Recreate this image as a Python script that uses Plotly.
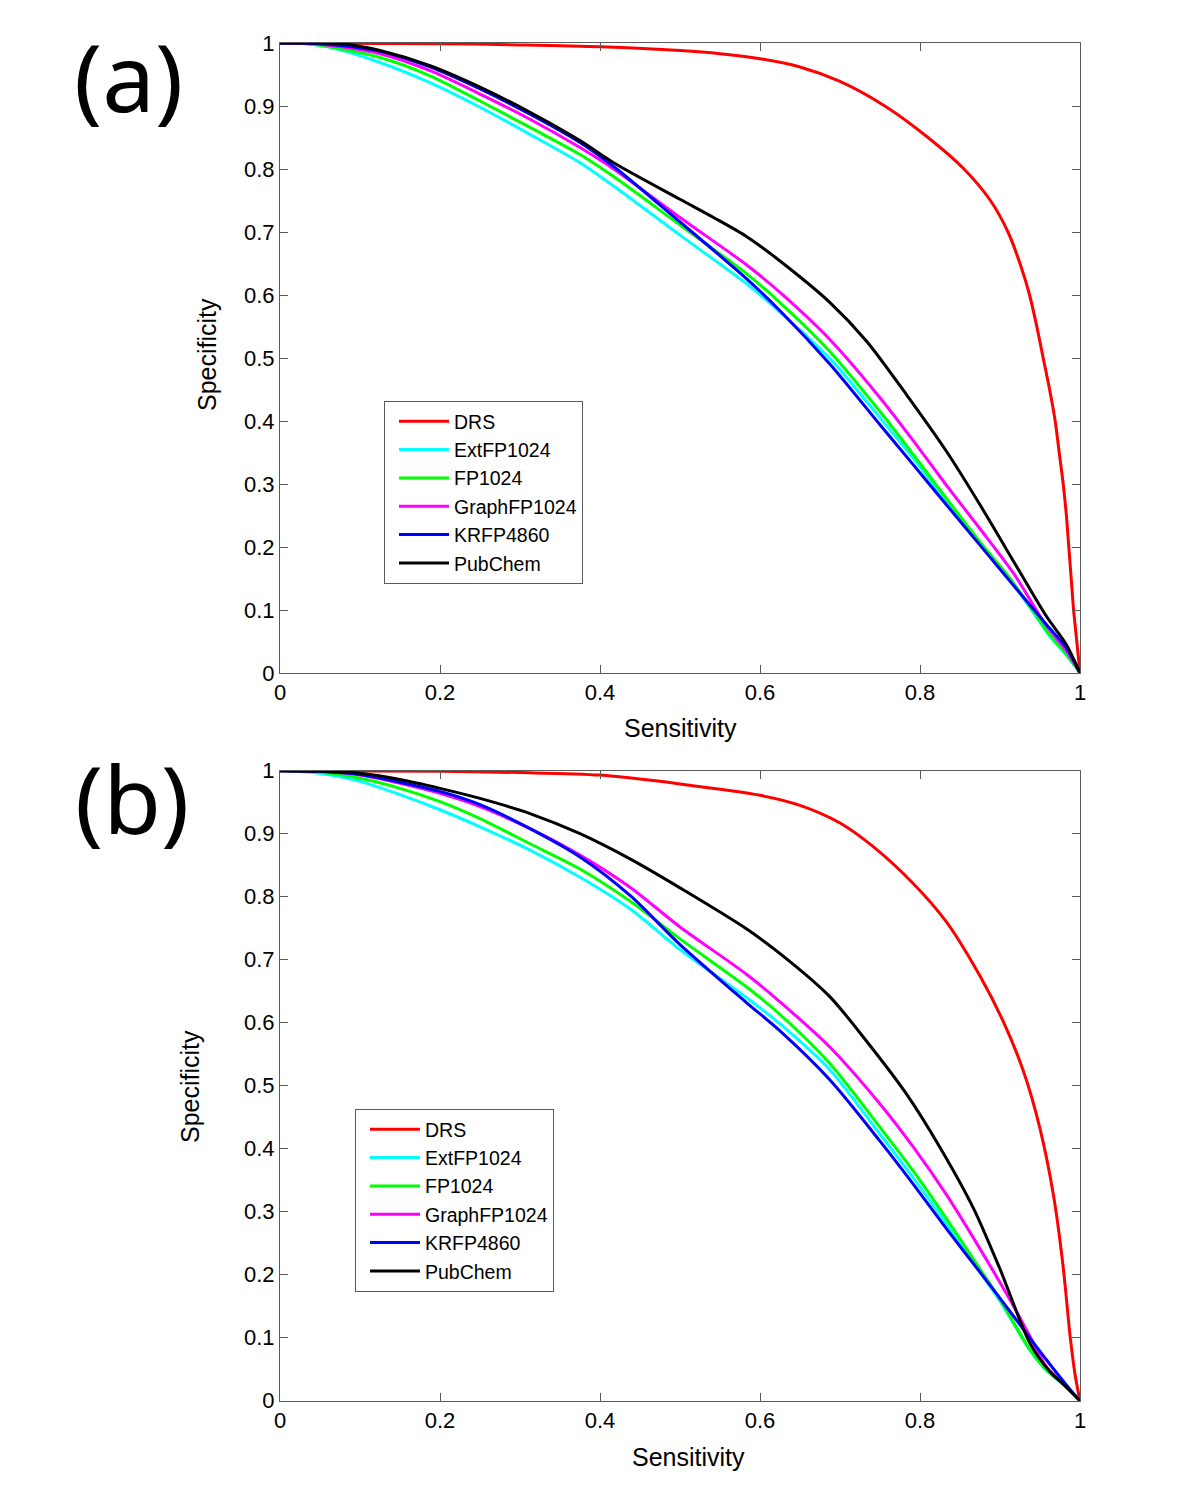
import plotly.graph_objects as go

# Page has an 8px body margin; the figure is sized so the page is exactly 1200x1485.
OFF = 8
FW, FH = 1200 - 2 * OFF, 1485 - 2 * OFF


def px(x):
    return (x - OFF) / FW


def py(y):
    return 1 - (y - OFF) / FH


names = ["DRS", "ExtFP1024", "FP1024", "GraphFP1024", "KRFP4860", "PubChem"]
colors = ["#FF0000", "#00FFFF", "#00FF00", "#FF00FF", "#0000FF", "#000000"]

# ---------------- Panel (a) ----------------
a_drs_x = [0, 0.2, 0.3, 0.4, 0.5, 0.55, 0.6, 0.65, 0.7, 0.756, 0.81, 0.855, 0.888, 0.91, 0.925, 0.937, 0.946, 0.954, 0.962, 0.969, 0.974, 0.979, 0.983, 0.986, 0.989, 0.992, 0.996, 1.0]
a_drs_y = [1, 0.999, 0.997, 0.994, 0.988, 0.983, 0.975, 0.962, 0.939, 0.9, 0.85, 0.8, 0.75, 0.7, 0.65, 0.6, 0.55, 0.5, 0.45, 0.4, 0.35, 0.3, 0.25, 0.2, 0.15, 0.1, 0.05, 0.0]

a_ext_x = [0, 0.03, 0.0625, 0.125, 0.1875, 0.25, 0.3125, 0.375, 0.417, 0.5, 0.583, 0.625, 0.6875, 0.75, 0.792, 0.833, 0.875, 0.9125, 0.946, 0.9625, 0.983, 1.0]
a_ext_y = [1, 0.999, 0.993, 0.969, 0.937, 0.898, 0.855, 0.810, 0.773, 0.695, 0.618, 0.573, 0.499, 0.405, 0.340, 0.272, 0.204, 0.148, 0.088, 0.058, 0.028, 0.0]

a_fp_x = [0, 0.04, 0.125, 0.1875, 0.25, 0.3125, 0.375, 0.417, 0.5, 0.583, 0.625, 0.6875, 0.75, 0.792, 0.833, 0.875, 0.9125, 0.946, 0.9625, 0.983, 1.0]
a_fp_y = [1, 0.998, 0.977, 0.948, 0.908, 0.866, 0.823, 0.788, 0.711, 0.634, 0.588, 0.510, 0.415, 0.346, 0.277, 0.208, 0.150, 0.090, 0.060, 0.030, 0.0]

a_graph_x = [0, 0.05, 0.125, 0.1875, 0.25, 0.3125, 0.375, 0.417, 0.5, 0.583, 0.625, 0.6875, 0.75, 0.792, 0.833, 0.875, 0.917, 0.958, 0.983, 1.0]
a_graph_y = [1, 0.998, 0.983, 0.956, 0.919, 0.879, 0.834, 0.800, 0.723, 0.648, 0.604, 0.529, 0.437, 0.368, 0.298, 0.229, 0.158, 0.075, 0.035, 0.0]

a_kr_x = [0, 0.05, 0.125, 0.1875, 0.25, 0.3125, 0.375, 0.417, 0.5, 0.583, 0.625, 0.6875, 0.75, 0.792, 0.833, 0.875, 0.917, 0.958, 0.983, 1.0]
a_kr_y = [1, 0.999, 0.987, 0.962, 0.927, 0.887, 0.842, 0.804, 0.716, 0.626, 0.575, 0.490, 0.394, 0.330, 0.267, 0.203, 0.139, 0.077, 0.040, 0.0]

a_pub_x = [0, 0.05, 0.083, 0.125, 0.1875, 0.25, 0.3125, 0.375, 0.417, 0.5, 0.542, 0.583, 0.625, 0.6875, 0.733, 0.783, 0.833, 0.875, 0.925, 0.958, 0.983, 1.0]
a_pub_y = [1, 1.0, 0.998, 0.988, 0.964, 0.930, 0.890, 0.845, 0.810, 0.752, 0.723, 0.693, 0.654, 0.588, 0.527, 0.442, 0.352, 0.267, 0.160, 0.090, 0.045, 0.0]

# ---------------- Panel (b) ----------------
b_drs_x = [0, 0.2, 0.3, 0.4, 0.5, 0.6, 0.65, 0.7, 0.74, 0.79, 0.833, 0.875, 0.904, 0.929, 0.95, 0.967, 0.979, 0.9875, 0.994, 1.0]
b_drs_y = [1, 0.999, 0.997, 0.993, 0.979, 0.961, 0.945, 0.917, 0.881, 0.823, 0.760, 0.674, 0.602, 0.524, 0.432, 0.325, 0.212, 0.104, 0.040, 0.0]

b_ext_x = [0, 0.05, 0.1, 0.15, 0.2, 0.25, 0.3125, 0.375, 0.4375, 0.5, 0.583, 0.625, 0.6875, 0.75, 0.792, 0.833, 0.875, 0.9, 0.9375, 0.958, 0.979, 1.0]
b_ext_y = [1, 0.996, 0.983, 0.962, 0.938, 0.911, 0.874, 0.831, 0.781, 0.716, 0.640, 0.598, 0.525, 0.423, 0.353, 0.281, 0.204, 0.158, 0.080, 0.048, 0.026, 0.0]

b_fp_x = [0, 0.05, 0.1, 0.15, 0.2, 0.25, 0.3125, 0.375, 0.4375, 0.5, 0.583, 0.625, 0.6875, 0.75, 0.792, 0.833, 0.875, 0.9, 0.917, 0.9375, 0.958, 0.979, 1.0]
b_fp_y = [1, 0.998, 0.988, 0.972, 0.951, 0.924, 0.884, 0.844, 0.793, 0.733, 0.657, 0.613, 0.535, 0.434, 0.364, 0.289, 0.209, 0.161, 0.124, 0.081, 0.049, 0.027, 0.0]

b_graph_x = [0, 0.05, 0.1, 0.15, 0.2, 0.25, 0.3125, 0.375, 0.4375, 0.5, 0.583, 0.625, 0.6875, 0.75, 0.792, 0.833, 0.875, 0.917, 0.9375, 0.958, 0.979, 1.0]
b_graph_y = [1, 0.999, 0.993, 0.980, 0.964, 0.943, 0.908, 0.866, 0.815, 0.752, 0.677, 0.633, 0.561, 0.471, 0.402, 0.327, 0.241, 0.150, 0.102, 0.054, 0.027, 0.0]

b_kr_x = [0, 0.05, 0.1, 0.2, 0.25, 0.3125, 0.375, 0.4375, 0.5, 0.583, 0.625, 0.6875, 0.75, 0.792, 0.833, 0.875, 0.917, 0.958, 0.992, 1.0]
b_kr_y = [1, 0.999, 0.994, 0.967, 0.946, 0.908, 0.863, 0.802, 0.724, 0.632, 0.587, 0.509, 0.412, 0.343, 0.273, 0.204, 0.134, 0.065, 0.011, 0.0]

b_pub_x = [0, 0.05, 0.1, 0.15, 0.2, 0.25, 0.3125, 0.375, 0.4375, 0.5, 0.583, 0.6375, 0.6875, 0.733, 0.783, 0.825, 0.867, 0.9, 0.9375, 0.9625, 0.98, 1.0]
b_pub_y = [1, 0.999, 0.996, 0.986, 0.972, 0.956, 0.932, 0.900, 0.860, 0.814, 0.749, 0.697, 0.641, 0.571, 0.487, 0.402, 0.305, 0.209, 0.091, 0.046, 0.025, 0.0]

panel_a = [(a_drs_x, a_drs_y), (a_ext_x, a_ext_y), (a_fp_x, a_fp_y),
           (a_graph_x, a_graph_y), (a_kr_x, a_kr_y), (a_pub_x, a_pub_y)]
panel_b = [(b_drs_x, b_drs_y), (b_ext_x, b_ext_y), (b_fp_x, b_fp_y),
           (b_graph_x, b_graph_y), (b_kr_x, b_kr_y), (b_pub_x, b_pub_y)]

fig = go.Figure()
for i, (x, y) in enumerate(panel_a):
    fig.add_trace(go.Scatter(x=x, y=y, mode="lines", name=names[i],
                             line=dict(color=colors[i], width=3, shape="spline", smoothing=0.8),
                             xaxis="x", yaxis="y", legend="legend"))
for i, (x, y) in enumerate(panel_b):
    fig.add_trace(go.Scatter(x=x, y=y, mode="lines", name=names[i],
                             line=dict(color=colors[i], width=3, shape="spline", smoothing=0.8),
                             xaxis="x2", yaxis="y2", legend="legend2"))

FONT = "Arial, Liberation Sans, sans-serif"
AX_COLOR = "#5a5a5a"


def xax(anchor):
    return dict(domain=[px(280), px(1080)], anchor=anchor, range=[0, 1],
                tick0=0, dtick=0.2, ticks="inside", ticklen=8, tickwidth=1,
                tickcolor=AX_COLOR, showline=True, linecolor=AX_COLOR, linewidth=1,
                mirror="ticks", showgrid=False, zeroline=False, automargin=False,
                tickfont=dict(family=FONT, size=22, color="black"))


def yax(anchor, top, bottom):
    return dict(domain=[py(bottom), py(top)], anchor=anchor, range=[0, 1],
                tick0=0, dtick=0.1, ticks="inside", ticklen=8, tickwidth=1,
                tickcolor=AX_COLOR, showline=True, linecolor=AX_COLOR, linewidth=1,
                mirror="ticks", showgrid=False, zeroline=False, automargin=False,
                tickfont=dict(family=FONT, size=22, color="black"))


def leg(left, top):
    return dict(x=px(left), y=py(top), xanchor="left", yanchor="top",
                bordercolor=AX_COLOR, borderwidth=1, bgcolor="white",
                font=dict(family=FONT, size=19.5, color="black"),
                itemwidth=50, indentation=9, tracegroupgap=0)


ann_font = dict(family=FONT, size=25, color="black")
label_font = dict(family="Noto Sans, Open Sans, sans-serif", size=94, color="black")


def ann(text, x, y, font, angle=0):
    return dict(text=text, x=px(x), y=py(y), xref="paper", yref="paper",
                xanchor="center", yanchor="middle", showarrow=False,
                textangle=angle, font=font)


annotations = [
    ann("Sensitivity", 680, 728, ann_font),
    ann("Specificity", 207, 355, ann_font, -90),
    ann("Sensitivity", 688, 1457, ann_font),
    ann("Specificity", 190, 1087, ann_font, -90),
    ann("(a)", 128, 76, label_font),
    ann("(b)", 132, 798, label_font),
]

fig.update_layout(
    template="none",
    width=FW, height=FH, margin=dict(l=0, r=0, t=0, b=0, pad=0), autosize=False,
    paper_bgcolor="white", plot_bgcolor="white",
    xaxis=xax("y"), yaxis=yax("x", 43, 673),
    xaxis2=xax("y2"), yaxis2=yax("x2", 770.7, 1400.7),
    legend=leg(384, 401), legend2=leg(355, 1109),
    annotations=annotations, showlegend=True,
)

fig.write_html("out.html")
